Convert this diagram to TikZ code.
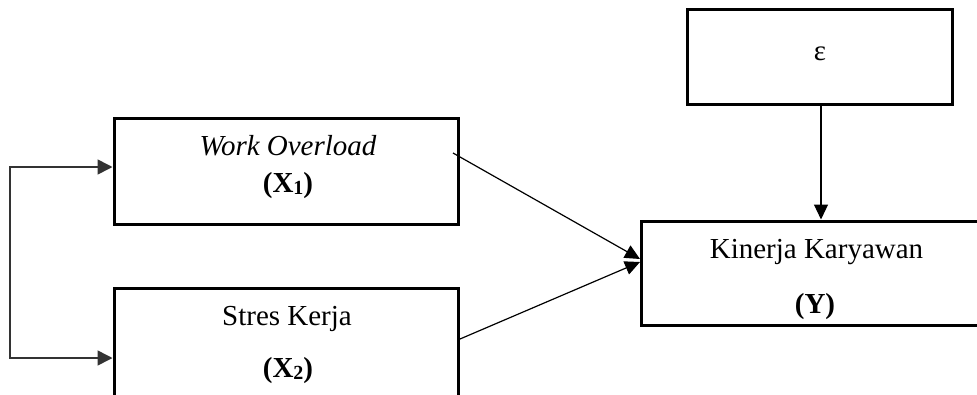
\documentclass[tikz,border=0pt]{standalone}
\usepackage{fontspec}
\setmainfont{Liberation Serif}
\usetikzlibrary{arrows.meta}
\begin{document}
\begin{tikzpicture}[x=1pt,y=-1pt,
  box/.style={draw=black,line width=3pt,rectangle,inner sep=0pt},
  lbl/.style={anchor=base,inner sep=0pt,font=\fontsize{29}{35}\selectfont},
  arr/.style={draw=black,line width=1.2pt,-{Triangle[length=15pt,width=14pt]}},
  fb/.style={draw=black!80,line width=1.6pt,{Triangle[length=15pt,width=15pt]}-{Triangle[length=15pt,width=15pt]}}]
\useasboundingbox (0,0) rectangle (977,394);
% boxes
\node[box,minimum width=265pt,minimum height=95pt] (E) at (819.5,56.5) {};
\node[box,minimum width=344pt,minimum height=106pt] (X1) at (286,171) {};
\node[box,minimum width=344pt,minimum height=142pt] (X2) at (286,359) {};
\node[box,minimum width=369pt,minimum height=104pt] (Y) at (825.5,273) {};
% texts
\node[lbl] (te) at (820,60) {ε};
\node[lbl] (t1a) at (288,155) {\textit{Work Overload}};
\node[lbl] (t1b) at (288,192) {\textbf{(X}\raisebox{-0.15ex}{\fontsize{20}{24}\selectfont\textbf{1}}\textbf{)}};
\node[lbl] (t2a) at (287,325) {Stres Kerja};
\node[lbl] (t2b) at (288,377) {\textbf{(X}\raisebox{-0.15ex}{\fontsize{20}{24}\selectfont\textbf{2}}\textbf{)}};
\node[lbl] (tya) at (816.5,258) {Kinerja Karyawan};
\node[lbl] (tyb) at (815,313) {\textbf{(Y)}};
% connectors
\coordinate (s1) at (453,153);
\coordinate (s2) at (460,339);
\coordinate (tipa) at (640,259);
\coordinate (tipb) at (640,262);
\draw[arr] (s1) -- (tipa);
\draw[arr] (s2) -- (tipb);
\coordinate (es) at (821,104);
\draw[arr] (es) -- (es |- Y.north);
\coordinate (fbtop) at (10,167);
\coordinate (fbbot) at (10,358);
\draw[fb] (X1.west |- fbtop) -- (fbtop) -- (fbbot) -- (X2.west |- fbbot);
\end{tikzpicture}
\end{document}
